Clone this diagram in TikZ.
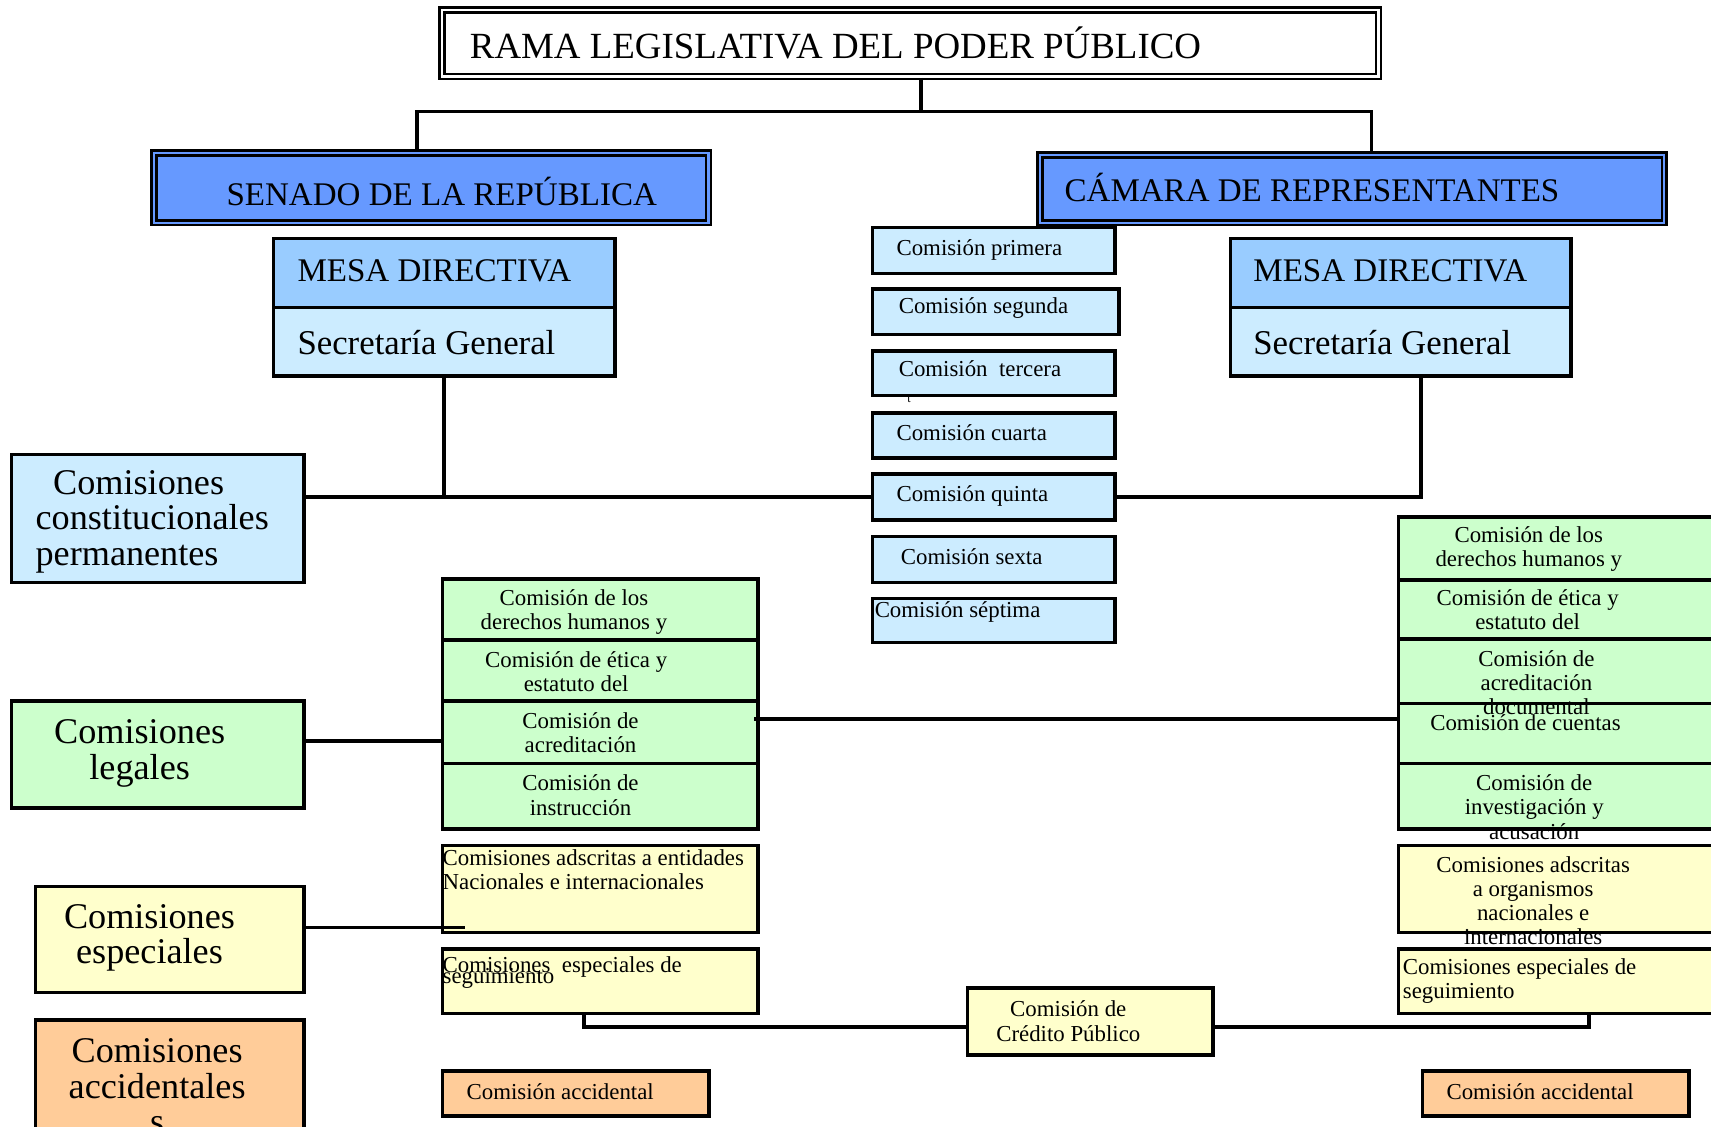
\documentclass[tikz,border=0pt]{standalone}
\usepackage{fontspec}
\setmainfont{Liberation Serif}
\usetikzlibrary{math}
\definecolor{azul}{HTML}{6699FF}
\definecolor{azulmedio}{HTML}{99CCFF}
\definecolor{celeste}{HTML}{CCECFF}
\definecolor{verde}{HTML}{CCFFCC}
\definecolor{amarillo}{HTML}{FFFFCC}
\definecolor{naranja}{HTML}{FFCC99}

\begin{document}
\begin{tikzpicture}[x=0.3105pt, y=-0.3105pt,
    caja/.style={draw, line width=1pt, inner sep=0pt, anchor=north west},
    doble/.style={double=#1, double distance=0.7pt, line width=0.7pt},
    linea/.style={line width=1pt},
    titulo/.style={font=\fontsize{10.5}{12}\selectfont, inner sep=0pt},
    cabeza/.style={font=\fontsize{9.4}{11}\selectfont, inner sep=0pt},
    grande/.style={font=\fontsize{10.3}{10.1}\selectfont, inner sep=0pt},
    chico/.style={font=\fontsize{6.5}{6.9}\selectfont, inner sep=0pt}]
  \tikzmath{\px = 0.3105;}
  \useasboundingbox (0,0) rectangle (1568,1032);

  \node[caja, doble=white, fill=white, minimum width=858*\px*1pt, minimum height=61*\px*1pt] (rama) at (404,8) {};
  \node[caja, doble=azul, fill=azul, minimum width=508*\px*1pt, minimum height=64*\px*1pt] (senado) at (140,139) {};
  \node[caja, doble=azul, fill=azul, minimum width=572*\px*1pt, minimum height=62*\px*1pt] (camara) at (952,141) {};
  \node[caja, fill=azulmedio, minimum width=313*\px*1pt, minimum height=63*\px*1pt] (mesaS) at (249,217) {};
  \node[caja, fill=celeste, minimum width=313*\px*1pt, minimum height=63*\px*1pt] (secS) at (249,280) {};
  \node[caja, fill=azulmedio, minimum width=312*\px*1pt, minimum height=63*\px*1pt] (mesaC) at (1126,217) {};
  \node[caja, fill=celeste, minimum width=312*\px*1pt, minimum height=63*\px*1pt] (secC) at (1126,280) {};

  \node[caja, fill=celeste, minimum width=222*\px*1pt, minimum height=42*\px*1pt] (primera) at (798,207) {};
  \node[caja, fill=celeste, minimum width=226*\px*1pt, minimum height=42*\px*1pt] (segunda) at (798,263) {};
  \node[caja, fill=celeste, minimum width=222*\px*1pt, minimum height=41*\px*1pt] (tercera) at (798,320) {};
  \node[caja, fill=celeste, minimum width=222*\px*1pt, minimum height=41*\px*1pt] (cuarta) at (798,377) {};
  \node[caja, fill=celeste, minimum width=222*\px*1pt, minimum height=42*\px*1pt] (quinta) at (798,433) {};
  \node[caja, fill=celeste, minimum width=222*\px*1pt, minimum height=42*\px*1pt] (sexta) at (798,490) {};
  \node[caja, fill=celeste, minimum width=222*\px*1pt, minimum height=40*\px*1pt] (septima) at (798,547) {};

  \node[caja, fill=celeste, minimum width=268*\px*1pt, minimum height=117*\px*1pt] (constit) at (9,415) {};
  \node[caja, fill=verde, minimum width=268*\px*1pt, minimum height=98*\px*1pt] (legales) at (9,641) {};
  \node[caja, fill=amarillo, minimum width=246*\px*1pt, minimum height=97*\px*1pt] (especiales) at (31,811) {};
  \node[caja, fill=naranja, minimum width=246*\px*1pt, minimum height=110*\px*1pt] (accidentales) at (31,933) {};

  \node[caja, fill=verde, minimum width=289*\px*1pt, minimum height=56*\px*1pt] (ddhhS) at (404,529) {};
  \node[caja, fill=verde, minimum width=289*\px*1pt, minimum height=56*\px*1pt] (eticaS) at (404,585) {};
  \node[caja, fill=verde, minimum width=289*\px*1pt, minimum height=57*\px*1pt] (acredS) at (404,641) {};
  \node[caja, fill=verde, minimum width=289*\px*1pt, minimum height=60*\px*1pt] (instrS) at (404,698) {};

  \node[caja, fill=verde, minimum width=300*\px*1pt, minimum height=58*\px*1pt] (ddhhC) at (1280,472) {};
  \node[caja, fill=verde, minimum width=300*\px*1pt, minimum height=54*\px*1pt] (eticaC) at (1280,530) {};
  \node[caja, fill=verde, minimum width=300*\px*1pt, minimum height=59*\px*1pt] (acredC) at (1280,584) {};
  \node[caja, fill=verde, minimum width=300*\px*1pt, minimum height=55*\px*1pt] (cuentasC) at (1280,643) {};
  \node[caja, fill=verde, minimum width=300*\px*1pt, minimum height=60*\px*1pt] (investC) at (1280,698) {};

  \node[caja, fill=amarillo, minimum width=289*\px*1pt, minimum height=80*\px*1pt] (adscS) at (404,773) {};
  \node[caja, fill=amarillo, minimum width=289*\px*1pt, minimum height=59*\px*1pt] (seguiS) at (404,868) {};
  \node[caja, fill=amarillo, minimum width=300*\px*1pt, minimum height=80*\px*1pt] (adscC) at (1280,773) {};
  \node[caja, fill=amarillo, minimum width=300*\px*1pt, minimum height=59*\px*1pt] (seguiC) at (1280,868) {};
  \node[caja, fill=amarillo, minimum width=225*\px*1pt, minimum height=61*\px*1pt] (credito) at (885,904) {};
  \node[caja, fill=naranja, minimum width=244*\px*1pt, minimum height=41*\px*1pt] (accS) at (404,980) {};
  \node[caja, fill=naranja, minimum width=244*\px*1pt, minimum height=41*\px*1pt] (accC) at (1302,980) {};

  \node[titulo, anchor=base west] (tRama) at (430,54) {RAMA LEGISLATIVA DEL PODER PÚBLICO};
  \node[cabeza, anchor=base west] (tSenado) at (207,188) {SENADO DE LA REPÚBLICA};
  \node[cabeza, anchor=base west] (tCamara) at (975,185) {CÁMARA DE REPRESENTANTES};
  \node[cabeza, anchor=base west] (tMesaS) at (272,258) {MESA DIRECTIVA};
  \node[cabeza, anchor=base west] (tMesaC) at (1148,258) {MESA DIRECTIVA};
  \node[grande, font=\fontsize{9.9}{12}\selectfont, anchor=base west] (tSecS) at (272,325) {Secretaría General};
  \node[grande, font=\fontsize{9.9}{12}\selectfont, anchor=base west] (tSecC) at (1148,325) {Secretaría General};

  \node[chico, anchor=base west] (tPrimera) at (821,234) {Comisión primera};
  \node[chico, anchor=base west] (tSegunda) at (823,287) {Comisión segunda};
  \node[chico, anchor=base west] (tTercera) at (823,345) {Comisión \ tercera};
  \node[chico, font=\fontsize{3.5}{4}\selectfont] (tSuelta) at (833,366) {t};
  \node[chico, anchor=base west] (tCuarta) at (821,404) {Comisión cuarta};
  \node[chico, anchor=base west] (tQuinta) at (821,460) {Comisión quinta};
  \node[chico, anchor=base west] (tSexta) at (825,517) {Comisión sexta};
  \node[chico, anchor=base west] (tSeptima) at (801,566) {Comisión séptima};

  \node[grande, anchor=base west, align=left] (tConstit) at (32,518) {\hspace*{5pt}Comisiones\\constitucionales\\permanentes};
  \node[grande, anchor=base, align=center] (tLegales) at (128,714) {Comisiones\\legales};
  \node[grande, anchor=base, align=center] (tEspeciales) at (137,883) {Comisiones\\especiales};
  \node[grande, anchor=base, align=center] (tAccid) at (144,1039) {Comisiones\\accidentales\\s};

  \node[chico, anchor=base, align=center] (tDdhhS) at (526,577) {Comisión de los\\derechos humanos y};
  \node[chico, anchor=base, align=center] (tEticaS) at (528,634) {Comisión de ética y\\estatuto del};
  \node[chico, anchor=base, align=center] (tAcredS) at (532,690) {Comisión de\\acreditación};
  \node[chico, anchor=base, align=center] (tInstrS) at (532,747) {Comisión de\\instrucción};

  \node[chico, anchor=base, align=center] (tDdhhC) at (1401,519) {Comisión de los\\derechos humanos y};
  \node[chico, anchor=base, align=center] (tEticaC) at (1400,577) {Comisión de ética y\\estatuto del};
  \node[chico, anchor=base, align=center] (tAcredC) at (1408,655) {Comisión de\\acreditación\\documental};
  \node[chico, anchor=base, align=center] (tCuentasC) at (1398,669) {Comisión de cuentas};
  \node[chico, anchor=base, align=center] (tInvestC) at (1406,769) {Comisión de\\investigación y\\acusación};

  \node[chico, anchor=base west, align=left] (tAdscS) at (405,815) {Comisiones adscritas a entidades\\Nacionales e internacionales};
  \node[chico, anchor=base west, align=left] (tSeguiS) at (405,901) {Comisiones \ especiales de\\[-4pt]seguimiento};
  \node[chico, anchor=base, align=center] (tAdscC) at (1405,866) {Comisiones adscritas\\a organismos\\nacionales e\\internacionales};
  \node[chico, anchor=base west, align=left] (tSeguiC) at (1285,915) {Comisiones especiales de\\seguimiento};
  \node[chico, anchor=base, align=center] (tCredito) at (979,954) {Comisión de\\Crédito Público};
  \node[chico, anchor=base west] (tAccS) at (427,1008) {Comisión accidental};
  \node[chico, anchor=base west] (tAccC) at (1325,1008) {Comisión accidental};

  \coordinate (ramaT) at (844,102);
  \coordinate (ramaS) at (382,102);
  \coordinate (ramaC) at (1257,102);
  \draw[linea] (rama.south -| ramaT) -- (ramaT);
  \draw[linea] (senado.north -| ramaS) -- (ramaS) -- (ramaC) -- (camara.north -| ramaC);

  \coordinate (bajadaC) at (1302,343);
  \draw[linea] (secS.south) -- (secS.south |- quinta.west);
  \draw[linea] (constit.east |- quinta.west) -- (quinta.west);
  \draw[linea] (quinta.east) -| (bajadaC);

  \coordinate (ligaL) at (404,679);
  \coordinate (ligaV) at (691,659);
  \coordinate (ligaE) at (426,850);
  \coordinate (ligaS) at (535,941);
  \coordinate (ligaC) at (1456,941);
  \draw[linea] (legales.east |- ligaL) -- (ligaL);
  \draw[linea] (ligaV) -- (ligaV -| acredC.west);
  \draw[linea] (especiales.east |- ligaE) -- (ligaE);
  \draw[linea] (seguiS.south -| ligaS) -- (ligaS) -- (ligaS -| credito.west);
  \draw[linea] (credito.east |- ligaC) -- (ligaC) -- (seguiC.south -| ligaC);
\end{tikzpicture}
\end{document}
